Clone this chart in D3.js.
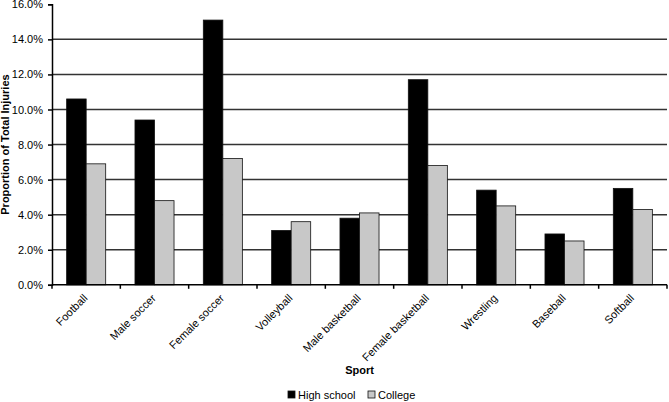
<!DOCTYPE html>
<html>
<head>
<meta charset="utf-8">
<script src="https://d3js.org/d3.v7.min.js"></script>
<style>
body { margin: 0; background: #fff; }
text { font-family: Arial, "Liberation Sans", sans-serif; }
</style>
</head>
<body>
<svg id="chart" width="669" height="402"></svg>
<script>
// data
const sports = ["Football", "Male soccer", "Female soccer", "Volleyball", "Male basketball",
                "Female basketball", "Wrestling", "Baseball", "Softball"];
const highSchool = [10.6, 9.4, 15.1, 3.1, 3.8, 11.7, 5.4, 2.9, 5.5];
const college = [6.9, 4.8, 7.2, 3.6, 4.1, 6.8, 4.5, 2.5, 4.3];
const seriesNames = ["High school", "College"];
const yTicks = [0, 2, 4, 6, 8, 10, 12, 14, 16];

const colors = { "High school": "#000000", "College": "#c8c8c8" };

const margin = {top: 4.3, left: 52, right: 2, bottom: 117.2};
const svg = d3.select("#chart");
const W = 669, H = 402;
const plotW = W - margin.left - margin.right;
const plotH = H - margin.top - margin.bottom;

const rows = sports.map((s, i) => ({sport: s, "High school": highSchool[i], "College": college[i]}));

const x0 = d3.scaleBand().domain(sports).range([0, plotW])
  .paddingInner(1.5 / 3.5).paddingOuter(0.75 / 3.5);
const x1 = d3.scaleBand().domain(seriesNames).range([0, x0.bandwidth()]);
const y = d3.scaleLinear().domain([0, 16]).range([plotH, 0]);

const g = svg.append("g").attr("transform", "translate(" + margin.left + "," + margin.top + ")");

// gridlines
g.append("g").selectAll("line")
  .data(yTicks.filter(t => t > 0 && t < 16))
  .enter().append("line")
  .attr("x1", 0).attr("x2", plotW)
  .attr("y1", d => y(d)).attr("y2", d => y(d))
  .attr("stroke", "#333").attr("stroke-width", 1.5);

// bars
g.append("g").selectAll("g")
  .data(rows)
  .enter().append("g")
  .attr("transform", d => "translate(" + x0(d.sport) + ",0)")
  .selectAll("rect")
  .data(d => seriesNames.map(k => ({key: k, value: d[k]})))
  .enter().append("rect")
  .attr("x", d => x1(d.key))
  .attr("width", x1.bandwidth())
  .attr("y", d => y(d.value))
  .attr("height", d => plotH - y(d.value))
  .attr("fill", d => colors[d.key])
  .attr("stroke", "#111").attr("stroke-width", 0.8);

// y axis
const yAxis = g.append("g")
  .call(d3.axisLeft(y).tickValues(yTicks).tickSize(4).tickPadding(5)
    .tickFormat(d => d.toFixed(1) + "%"));
yAxis.select(".domain").attr("stroke", "#000").attr("stroke-width", 1.5);
yAxis.selectAll("line").attr("stroke-width", 1.5);
yAxis.selectAll("text").attr("font-size", 11).attr("fill", "#000")
  .style("font-family", "Arial, 'Liberation Sans', sans-serif");

// x axis line with ticks at category boundaries
const xg = g.append("g").attr("transform", "translate(0," + plotH + ")");
xg.append("line").attr("x1", 0).attr("x2", plotW).attr("stroke", "#000").attr("stroke-width", 1.5);
xg.selectAll("line.tick")
  .data(d3.range(sports.length + 1))
  .enter().append("line").attr("class", "tick")
  .attr("x1", i => i * x0.step()).attr("x2", i => i * x0.step())
  .attr("y1", 0).attr("y2", 4)
  .attr("stroke", "#000").attr("stroke-width", 1.5);
xg.selectAll("text")
  .data(sports)
  .enter().append("text")
  .attr("transform", d => "translate(" + (x0(d) + x0.bandwidth() / 2 + 2) + ",14) rotate(-45)")
  .attr("text-anchor", "end")
  .attr("font-size", 11)
  .text(d => d);

// axis titles
svg.append("text")
  .attr("transform", "translate(9," + (margin.top + plotH / 2) + ") rotate(-90)")
  .attr("text-anchor", "middle")
  .attr("font-size", 11).attr("font-weight", "bold")
  .text("Proportion of Total Injuries");
svg.append("text")
  .attr("x", margin.left + plotW / 2).attr("y", 374)
  .attr("text-anchor", "middle")
  .attr("font-size", 11).attr("font-weight", "bold")
  .text("Sport");

// legend
const legendX = [288, 368];
const legend = svg.append("g").selectAll("g")
  .data(seriesNames)
  .enter().append("g")
  .attr("transform", (d, i) => "translate(" + legendX[i] + ",391)");
legend.append("rect")
  .attr("width", 7).attr("height", 7)
  .attr("fill", d => colors[d]).attr("stroke", "#111").attr("stroke-width", 0.8);
legend.append("text")
  .attr("x", 10).attr("y", 7.5)
  .attr("font-size", 11)
  .text(d => d);
</script>
</body>
</html>
